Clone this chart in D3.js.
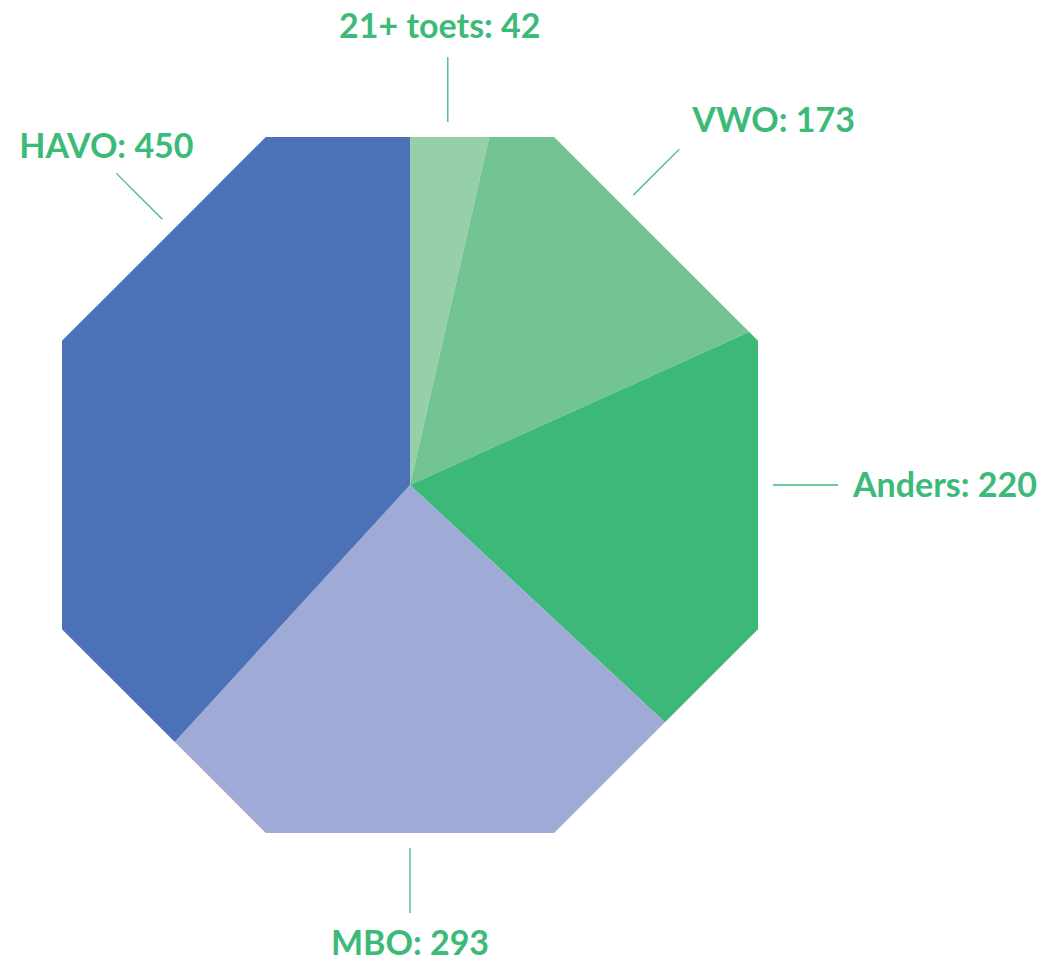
<!DOCTYPE html>
<html>
<head>
<meta charset="utf-8">
<script src="https://cdn.jsdelivr.net/npm/d3@7"></script>
<style>
  html, body { margin: 0; padding: 0; background: #ffffff; }
  svg { display: block; }
  .lbl { font-family: Lato, "Open Sans", sans-serif; font-weight: 700; }
</style>
</head>
<body>
<svg id="chart" width="1050" height="962"></svg>
<script>
// ---- data ----
const categories = ["21+ toets", "VWO", "Anders", "MBO", "HAVO"];
const values = [42, 173, 220, 293, 450];
const colors = ["#97cfaa", "#72c493", "#3cb878", "#9fabd6", "#4c71b6"];
// label anchor angles (degrees clockwise from north), layout only
const labelAngles = [6.2, 37.3, 90, 180, 317.1];
const labelAnchor = ["middle", "start", "start", "middle", "middle"];
const labelDx = [-8, 13, 15, 0, -10];
const labelDy = [-19, -17, 12, 42, -15];

// ---- layout ----
const W = 1050, H = 962;
const cx = 410, cy = 485;
const apothem = 348;
const R = apothem / Math.cos(Math.PI / 8);
const textColor = "#3dba78";

const svg = d3.select("#chart");
const g = svg.append("g").attr("transform", `translate(${cx},${cy})`);

// octagon clip (flat top)
const octPts = d3.range(8).map(k => {
  const a = Math.PI / 8 + k * Math.PI / 4; // clockwise from north
  return [R * Math.sin(a), -R * Math.cos(a)];
});
svg.append("defs").append("clipPath").attr("id", "oct")
  .append("polygon")
  .attr("points", octPts.map(p => p.join(",")).join(" "));

const pie = d3.pie().sort(null).value(d => d.value).startAngle(0).endAngle(2 * Math.PI);
const data = categories.map((c, i) => ({ name: c, value: values[i], color: colors[i] }));
const arcs = pie(data);
const arc = d3.arc().innerRadius(0).outerRadius(R + 20);

g.append("g").attr("clip-path", "url(#oct)")
  .selectAll("path").data(arcs).join("path")
  .attr("d", arc)
  .attr("fill", d => d.data.color);

// labels
const toRad = Math.PI / 180;
arcs.forEach((d, i) => {
  const th = labelAngles[i] * toRad;
  const n = Math.round(th / (Math.PI / 4)) * (Math.PI / 4); // side normal
  const rb = apothem / Math.cos(th - n);
  const bx = rb * Math.sin(th), by = -rb * Math.cos(th);
  const nx = Math.sin(n), ny = -Math.cos(n);
  const x1 = bx + 15 * nx, y1 = by + 15 * ny;
  const x2 = bx + 80 * nx, y2 = by + 80 * ny;
  g.append("line")
    .attr("x1", x1).attr("y1", y1).attr("x2", x2).attr("y2", y2)
    .attr("stroke", textColor).attr("stroke-width", 1.3);
  g.append("text")
    .attr("class", "lbl")
    .attr("x", x2 + labelDx[i]).attr("y", y2 + labelDy[i])
    .attr("text-anchor", labelAnchor[i])
    .attr("fill", textColor)
    .attr("font-size", 34)
    .text(`${d.data.name}: ${d.data.value}`);
});
</script>
</body>
</html>
